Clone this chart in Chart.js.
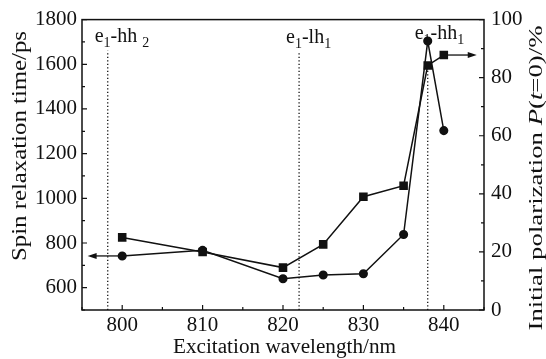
<!DOCTYPE html>
<html>
<head>
<meta charset="utf-8">
<script src="https://cdn.jsdelivr.net/npm/chart.js@4.4.1/dist/chart.umd.min.js"></script>
<style>
  html, body { margin: 0; padding: 0; background: #fff; }
  #wrap { width: 546px; height: 359px; }
</style>
</head>
<body>
<div id="wrap"><canvas id="chart" width="546" height="359"></canvas></div>
<script>
// values
const wavelengths = [800, 810, 820, 825, 830, 835, 838, 840];
const spinTime = [742, 767, 640, 657, 662, 838, 1704, 1303];      // ps, left axis, circles
const polarization = [25, 20, 14.6, 22.6, 39, 42.8, 84.2, 87.8];  // %, right axis, squares

const xTicks = [800, 810, 820, 830, 840];
const leftTicks = [600, 800, 1000, 1200, 1400, 1600, 1800];
const rightTicks = [0, 20, 40, 60, 80, 100];

// transition markers (dotted lines + labels)
const transParts = [['e', '1', '-hh ', '2'], ['e', '1', '-lh', '1'], ['e', '1', '-hh', '1']];
const transX = [798.2, 822, 838];
const transLineTop = [1660, 1650, 1590];
const transLabelY = [1698, 1694, 1711];

// where the "which axis" arrows end
const arrowEndX = [795.7, 844.1];

const serif = 'Liberation Serif, Times New Roman, serif';
const ink = '#111';
Chart.defaults.font.family = serif;

function drawStretched(ctx, parts, cx, cy, angle, length, size) {
  ctx.save();
  ctx.translate(cx, cy);
  ctx.rotate(angle);
  let w = 0;
  parts.forEach(p => {
    ctx.font = (p[1] ? 'italic ' : '') + size + 'px ' + serif;
    w += ctx.measureText(p[0]).width;
  });
  ctx.scale(length / w, 1);
  ctx.textBaseline = 'middle';
  ctx.textAlign = 'left';
  ctx.fillStyle = ink;
  let x = -w / 2;
  parts.forEach(p => {
    ctx.font = (p[1] ? 'italic ' : '') + size + 'px ' + serif;
    ctx.fillText(p[0], x, 0);
    x += ctx.measureText(p[0]).width;
  });
  ctx.restore();
}

function arrow(ctx, x0, y, x1) {
  const dir = Math.sign(x1 - x0);
  ctx.beginPath();
  ctx.moveTo(x0, y);
  ctx.lineTo(x1 - dir * 7, y);
  ctx.stroke();
  ctx.beginPath();
  ctx.moveTo(x1, y);
  ctx.lineTo(x1 - dir * 9, y - 3);
  ctx.lineTo(x1 - dir * 9, y + 3);
  ctx.closePath();
  ctx.fill();
}

const decor = {
  id: 'decor',
  afterDatasetsDraw(chart) {
    const ctx = chart.ctx;
    const a = chart.chartArea;
    const x = chart.scales.x, yl = chart.scales.y, yr = chart.scales.y2;
    ctx.save();
    ctx.strokeStyle = ink;
    ctx.fillStyle = ink;

    // frame
    ctx.lineWidth = 1.5;
    ctx.strokeRect(a.left, a.top, a.right - a.left, a.bottom - a.top);

    // inward ticks, majors and minors
    ctx.lineWidth = 1.2;
    ctx.beginPath();
    for (let v = 795; v <= 845; v += 5) {
      const px = x.getPixelForValue(v);
      const len = v % 10 === 0 ? 5 : 3;
      ctx.moveTo(px, a.bottom); ctx.lineTo(px, a.bottom - len);
    }
    for (let v = 500; v <= 1800; v += 100) {
      const py = yl.getPixelForValue(v);
      const len = v % 200 === 0 ? 5 : 3;
      ctx.moveTo(a.left, py); ctx.lineTo(a.left + len, py);
    }
    for (let v = 0; v <= 100; v += 10) {
      const py = yr.getPixelForValue(v);
      const len = v % 20 === 0 ? 5 : 3;
      ctx.moveTo(a.right, py); ctx.lineTo(a.right - len, py);
    }
    ctx.stroke();

    // arrows pointing at each series' axis
    ctx.lineWidth = 1.3;
    arrow(ctx, x.getPixelForValue(wavelengths[0]), yl.getPixelForValue(spinTime[0]),
      x.getPixelForValue(arrowEndX[0]));
    const last = wavelengths.length - 1;
    arrow(ctx, x.getPixelForValue(wavelengths[last]), yr.getPixelForValue(polarization[last]),
      x.getPixelForValue(arrowEndX[1]));

    // transition labels
    ctx.textBaseline = 'alphabetic';
    ctx.textAlign = 'left';
    transParts.forEach((parts, i) => {
      let px = x.getPixelForValue(transX[i]) - 13;
      const py = yl.getPixelForValue(transLabelY[i]);
      parts.forEach((t, j) => {
        const sub = j % 2 === 1;
        ctx.font = (sub ? 14 : 20) + 'px ' + serif;
        ctx.fillText(t, px, sub ? py + 5 : py);
        px += ctx.measureText(t).width;
      });
    });

    // axis titles
    drawStretched(ctx, [['Excitation wavelength/nm', false]], 284.5, 348, 0, 223, 20);
    drawStretched(ctx, [['Spin relaxation time/ps', false]], 21, 146, -Math.PI / 2, 230, 20);
    drawStretched(ctx, [['Initial polarization ', false], ['P', true], ['(', false], ['t', true], ['=0)/%', false]],
      537, 178, -Math.PI / 2, 305, 19);
    ctx.restore();
  }
};

const tickFont = { family: serif, size: 21 };
const plain = v => String(v);

const dottedSets = transX.map((v, i) => ({
  data: [{ x: v, y: 500 }, { x: v, y: transLineTop[i] }],
  yAxisID: 'y',
  borderColor: ink,
  borderWidth: 1.3,
  borderDash: [1.3, 2.2],
  pointRadius: 0,
  order: 3
}));

new Chart(document.getElementById('chart'), {
  type: 'line',
  data: {
    datasets: [
      {
        label: 'Spin relaxation time',
        data: wavelengths.map((w, i) => ({ x: w, y: spinTime[i] })),
        yAxisID: 'y',
        borderColor: ink,
        backgroundColor: ink,
        borderWidth: 1.5,
        pointStyle: 'circle',
        pointRadius: 3.8,
        tension: 0,
        order: 1
      },
      {
        label: 'Initial polarization',
        data: wavelengths.map((w, i) => ({ x: w, y: polarization[i] })),
        yAxisID: 'y2',
        borderColor: ink,
        backgroundColor: ink,
        borderWidth: 1.5,
        pointStyle: 'rect',
        pointRadius: 5,
        tension: 0,
        order: 2
      },
      ...dottedSets
    ]
  },
  options: {
    responsive: false,
    animation: false,
    layout: { padding: { top: 15, left: 0, right: 0, bottom: 0 } },
    plugins: { legend: { display: false }, tooltip: { enabled: false } },
    scales: {
      x: {
        type: 'linear',
        min: 795,
        max: 845,
        grid: { display: false, drawTicks: false },
        border: { display: false },
        ticks: { font: tickFont, color: ink, padding: 3, maxRotation: 0, callback: plain },
        afterBuildTicks: s => { s.ticks = xTicks.map(v => ({ value: v })); },
        afterFit: s => { s.height = 49; }
      },
      y: {
        position: 'left',
        min: 500,
        max: 1800,
        grid: { display: false, drawTicks: false },
        border: { display: false },
        ticks: { font: tickFont, color: ink, padding: 5, callback: plain },
        afterBuildTicks: s => { s.ticks = leftTicks.map(v => ({ value: v })); },
        afterFit: s => { s.width = 82; }
      },
      y2: {
        position: 'right',
        min: 0,
        max: 100,
        grid: { display: false, drawTicks: false },
        border: { display: false },
        ticks: { font: tickFont, color: ink, padding: 7, callback: plain },
        afterBuildTicks: s => { s.ticks = rightTicks.map(v => ({ value: v })); },
        afterFit: s => { s.width = 62; }
      }
    }
  },
  plugins: [decor]
});
</script>
</body>
</html>
